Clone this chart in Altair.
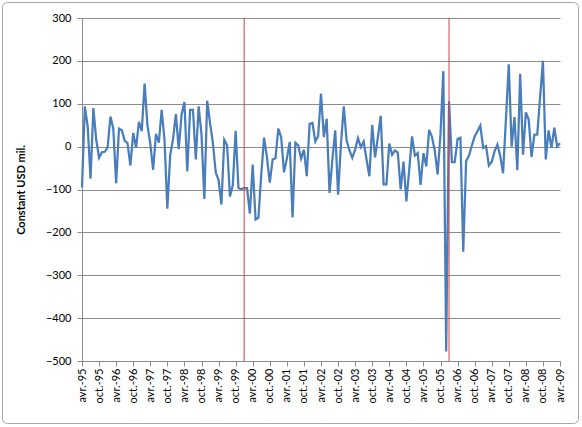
import json
import altair as alt
import pandas as pd

# Monthly values, avr.-95 (April 1995) .. avr.-09 (April 2009), constant USD mil.
values = [
    -95, 94, 47, -75, 90, 16, -26, -13, -12, -2, 70, 42,
    -85, 42, 38, 14, 8, -44, 32, -3, 58, 36, 147, 50,
    7, -54, 30, 9, 86, 16, -145, -20, 18, 76, -6, 75,
    104, -58, 86, 86, -30, 94, 28, -122, 107, 55, 9, -60,
    -78, -135, 16, 3, -116, -90, 37, -97, -99, -97, -97, -156,
    -42, -170, -166, -65, 21, -25, -84, -30, -27, 42, 22, -60,
    -28, 11, -165, 9, 3, -28, -7, -69, 53, 55, 12, 25,
    124, 22, 65, -108, -30, 38, -112, 5, 94, 14, -9, -26,
    -7, 20, -1, 12, -30, -69, 51, -25, 22, 72, -88, -88,
    7, -19, -9, -14, -100, -35, -128, -55, 24, -21, -15, -89,
    -15, -46, 39, 23, -10, -65, 30, 176, -478, 106, -36, -36,
    18, 21, -245, -34, -21, 2, 24, 36, 49, -3, 1, -44,
    -36, -11, 5, -22, -62, 65, 192, 0, 69, -55, 170, -19,
    80, 63, -24, 28, 28, 115, 200, -30, 38, -3, 44, 1,
    8,
]

tick_labels = [
    "avr.-95", "oct.-95", "avr.-96", "oct.-96", "avr.-97", "oct.-97",
    "avr.-98", "oct.-98", "avr.-99", "oct.-99", "avr.-00", "oct.-00",
    "avr.-01", "oct.-01", "avr.-02", "oct.-02", "avr.-03", "oct.-03",
    "avr.-04", "oct.-04", "avr.-05", "oct.-05", "avr.-06", "oct.-06",
    "avr.-07", "oct.-07", "avr.-08", "oct.-08", "avr.-09",
]

break_dates = ["2000-01", "2006-01"]

y_ticks = [-500, -400, -300, -200, -100, 0, 100, 200, 300]

df = pd.DataFrame({"m": list(range(len(values))), "v": values})
breaks = pd.DataFrame(
    {"m": [(int(d[:4]) - 1995) * 12 + int(d[5:]) - 4 for d in break_dates]}
)

FONT = "Lato"
GRID = "#8c8c8c"

x_scale = alt.Scale(domain=[0, len(values) - 1], nice=False, zero=False)
y_scale = alt.Scale(domain=[-500, 300], nice=False)

label_expr = json.dumps(tick_labels) + "[round(datum.value / 6)]"

x_axis = alt.Axis(
    values=list(range(0, len(values), 6)),
    labelExpr=label_expr,
    labelAngle=-90,
    labelAlign="right",
    labelBaseline="middle",
    labelFont=FONT,
    labelFontSize=11,
    labelColor="#000000",
    labelPadding=2,
    labelOverlap=False,
    labelSeparation=0,
    labelFlush=False,
    labelBound=False,
    tickSize=5,
    tickColor=GRID,
    domainColor=GRID,
    grid=False,
    title=None,
)

y_axis = alt.Axis(
    values=y_ticks,
    grid=True,
    gridColor=GRID,
    gridWidth=1,
    tickSize=5,
    tickColor=GRID,
    domainColor=GRID,
    labelFont=FONT,
    labelFontSize=11,
    labelColor="#000000",
    labelPadding=6,
    labelOverlap=False,
    labelFlush=False,
    title="Constant USD mil.",
    titleFont=FONT,
    titleFontSize=11,
    titleFontWeight="bold",
    titleColor="#000000",
    titleAngle=270,
    titleX=-61,
    titleY=171.5,
    titleAlign="center",
    titleBaseline="middle",
)

border = alt.Chart(pd.DataFrame({"a": [0]})).mark_rect(
    fill="transparent", stroke="#a6a6a6", strokeWidth=1, cornerRadius=5
).encode(
    x=alt.value(-79.5), x2=alt.value(496.5), y=alt.value(-15.5), y2=alt.value(405.5)
)

line = alt.Chart(df).mark_line(color="#4A7EBB", strokeWidth=2.25).encode(
    x=alt.X("m:Q", scale=x_scale, axis=x_axis),
    y=alt.Y("v:Q", scale=y_scale, axis=y_axis),
)

rules = alt.Chart(breaks).mark_rule(color="#D04040", strokeWidth=1).encode(
    x=alt.X("m:Q", scale=x_scale, axis=x_axis)
)

chart = (
    alt.layer(line, rules, border)
    .properties(
        width=478,
        height=343,
        padding={"left": 82, "top": 18, "right": 22, "bottom": 66},
        autosize=alt.AutoSizeParams(type="none"),
        background="white",
    )
    .configure_view(stroke=None)
    .configure_axisX(labelOverlap=False)
)

chart.save("out.html", embed_options={"renderer": "svg", "actions": False})
